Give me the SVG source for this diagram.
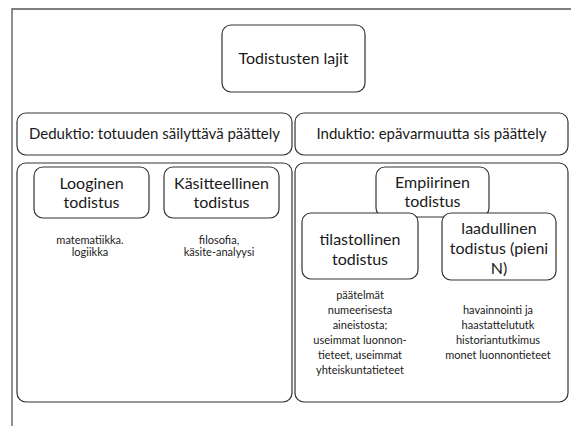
<svg xmlns="http://www.w3.org/2000/svg" width="571" height="426" viewBox="0 0 571 426">
<style>
.box{fill:#fff;stroke:#333;stroke-width:1.2}
.frame{fill:none;stroke:#555;stroke-width:1.3}
text{font-family:Lato,"Open Sans","DejaVu Sans",sans-serif;fill:#1a1a1a;text-anchor:middle}
.lg{font-size:16px}
.md{font-size:15px}
.sm{font-size:11px}
</style>
<rect width="571" height="426" fill="#fff"/>
<g id="frame">
<path class="frame" d="M12 426 V9 H571"/>
</g>
<g id="connectors"></g>
<g id="title">
<rect class="box" x="222" y="25" width="143" height="67" rx="9"/>
<text class="lg" x="293.5" y="64">Todistusten lajit</text>
</g>
<g id="deduktio">
<rect class="box" x="17" y="113" width="275" height="42" rx="9"/>
<text class="md" x="154.5" y="139">Deduktio: totuuden säilyttävä päättely</text>
</g>
<g id="induktio">
<rect class="box" x="295" y="113" width="273" height="42" rx="9"/>
<text class="md" x="431.5" y="139">Induktio: epävarmuutta sis päättely</text>
</g>
<g id="deduktio-panel">
<rect class="box" x="17" y="163" width="275" height="239" rx="9"/>
</g>
<g id="induktio-panel">
<rect class="box" x="295" y="163" width="273" height="239" rx="9"/>
</g>
<g id="looginen">
<rect class="box" x="34" y="167" width="115" height="51" rx="9"/>
<text class="lg" x="91.5" y="189">Looginen</text>
<text class="lg" x="91.5" y="208">todistus</text>
</g>
<g id="looginen-note">
<text class="sm" x="90" y="244">matematiikka.</text>
<text class="sm" x="90" y="256">logiikka</text>
</g>
<g id="kasitteellinen">
<rect class="box" x="164" y="167" width="115" height="51" rx="9"/>
<text class="lg" x="221.5" y="189">Käsitteellinen</text>
<text class="lg" x="221.5" y="208">todistus</text>
</g>
<g id="kasitteellinen-note">
<text class="sm" x="219" y="244">filosofia,</text>
<text class="sm" x="219" y="256">käsite-analyysi</text>
</g>
<g id="empiirinen">
<rect class="box" x="376" y="167" width="113" height="50" rx="9"/>
<text class="lg" x="432.5" y="188">Empiirinen</text>
<text class="lg" x="432.5" y="207">todistus</text>
</g>
<g id="tilastollinen">
<rect class="box" x="302" y="213" width="116" height="66" rx="9"/>
<text class="lg" x="360" y="245">tilastollinen</text>
<text class="lg" x="360" y="265">todistus</text>
</g>
<g id="tilastollinen-note">
<text class="sm" x="360" y="299">päätelmät</text>
<text class="sm" x="360" y="314">numeerisesta</text>
<text class="sm" x="360" y="329">aineistosta;</text>
<text class="sm" x="360" y="344">useimmat luonnon-</text>
<text class="sm" x="360" y="359">tieteet, useimmat</text>
<text class="sm" x="360" y="374">yhteiskuntatieteet</text>
</g>
<g id="laadullinen">
<rect class="box" x="442" y="213" width="114" height="67" rx="9"/>
<text class="lg" x="499" y="234">laadullinen</text>
<text class="lg" x="499" y="254">todistus (pieni</text>
<text class="lg" x="499" y="274">N)</text>
</g>
<g id="laadullinen-note">
<text class="sm" x="498" y="314">havainnointi ja</text>
<text class="sm" x="498" y="329">haastattelututk</text>
<text class="sm" x="498" y="344">historiantutkimus</text>
<text class="sm" x="498" y="359">monet luonnontieteet</text>
</g>
</svg>
